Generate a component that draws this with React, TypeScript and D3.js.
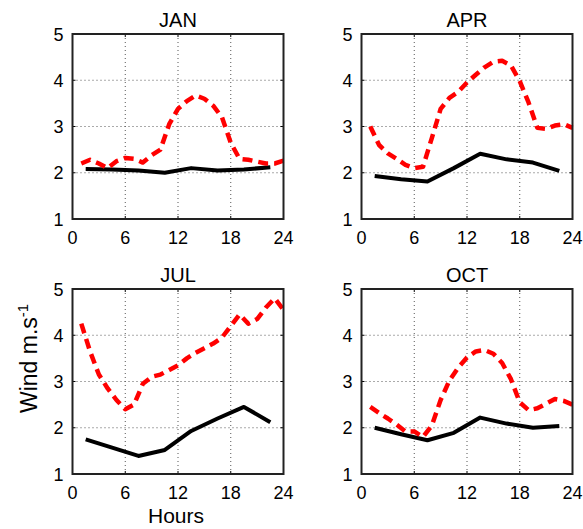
import React from 'react';
import * as d3 from 'd3';

// hourly values (hours 1..24), dashed red
const hoursRed = d3.range(1, 25);
// 3-hourly values, solid black
const hoursBlack = [1.5, 4.5, 7.5, 10.5, 13.5, 16.5, 19.5, 22.5];

const janRed = [2.2, 2.28, 2.2, 2.1, 2.25, 2.32, 2.3, 2.22, 2.38, 2.5, 3.05, 3.38, 3.55, 3.67, 3.6, 3.45, 3.2, 2.65, 2.3, 2.28, 2.24, 2.2, 2.2, 2.26];
const janBlack = [2.08, 2.07, 2.05, 2.0, 2.1, 2.05, 2.07, 2.12];

const aprRed = [3.0, 2.6, 2.42, 2.3, 2.17, 2.1, 2.13, 2.75, 3.38, 3.62, 3.75, 3.95, 4.12, 4.28, 4.4, 4.42, 4.32, 3.98, 3.52, 2.97, 2.95, 3.02, 3.05, 2.97];
const aprBlack = [1.93, 1.86, 1.81, 2.1, 2.41, 2.29, 2.22, 2.04];

const julRed = [4.25, 3.65, 3.15, 2.85, 2.6, 2.4, 2.5, 2.95, 3.1, 3.15, 3.25, 3.35, 3.5, 3.62, 3.72, 3.82, 3.95, 4.2, 4.45, 4.25, 4.35, 4.6, 4.8, 4.55];
const julBlack = [1.75, 1.57, 1.39, 1.52, 1.93, 2.2, 2.45, 2.12];

const octRed = [2.45, 2.32, 2.2, 2.07, 1.92, 1.92, 1.8, 2.05, 2.6, 3.02, 3.3, 3.52, 3.65, 3.68, 3.6, 3.4, 3.05, 2.55, 2.38, 2.42, 2.52, 2.62, 2.58, 2.5];
const octBlack = [2.0, 1.86, 1.73, 1.89, 2.22, 2.09, 2.0, 2.04];

const xTicks = [0, 6, 12, 18, 24];
const yTicks = [1, 2, 3, 4, 5];

const panels = [
  { title: 'JAN', red: janRed, black: janBlack, x0: 72.5, y0: 34 },
  { title: 'APR', red: aprRed, black: aprBlack, x0: 361.5, y0: 34 },
  { title: 'JUL', red: julRed, black: julBlack, x0: 72.5, y0: 289 },
  { title: 'OCT', red: octRed, black: octBlack, x0: 361.5, y0: 289 },
];

const W = 211;
const H = 185;
const font = 'Liberation Sans, Arial, sans-serif';

function Panel({ p }: { p: typeof panels[number] }) {
  const x = d3.scaleLinear().domain([0, 24]).range([0, W]);
  const y = d3.scaleLinear().domain([1, 5]).range([H, 0]);
  const line = d3.line<[number, number]>()
    .x(d => x(d[0]))
    .y(d => y(d[1]));
  const redPts: [number, number][] = hoursRed.map((h, i) => [h, p.red[i]]);
  const blackPts: [number, number][] = hoursBlack.map((h, i) => [h, p.black[i]]);
  return (
    <g transform={`translate(${p.x0},${p.y0})`}>
      {/* grid */}
      {xTicks.slice(1, -1).map(t => (
        <line key={'gx' + t} x1={x(t)} x2={x(t)} y1={0} y2={H} stroke="#555" strokeWidth={1} strokeDasharray="1,3" />
      ))}
      {yTicks.slice(1, -1).map(t => (
        <line key={'gy' + t} x1={0} x2={W} y1={y(t)} y2={y(t)} stroke="#555" strokeWidth={1} strokeDasharray="1,3" />
      ))}
      {/* inward ticks */}
      {xTicks.map(t => (
        <g key={'tx' + t}>
          <line x1={x(t)} x2={x(t)} y1={H} y2={H - 3} stroke="#000" />
          <line x1={x(t)} x2={x(t)} y1={0} y2={3} stroke="#000" />
        </g>
      ))}
      {yTicks.map(t => (
        <g key={'ty' + t}>
          <line x1={0} x2={3} y1={y(t)} y2={y(t)} stroke="#000" />
          <line x1={W} x2={W - 3} y1={y(t)} y2={y(t)} stroke="#000" />
        </g>
      ))}
      <path d={line(blackPts) || ''} fill="none" stroke="#000" strokeWidth={4} strokeLinejoin="round" />
      <path d={line(redPts) || ''} fill="none" stroke="#ff0000" strokeWidth={4.5} strokeDasharray="10,6" strokeLinejoin="round" />
      <rect x={0} y={0} width={W} height={H} fill="none" stroke="#222" strokeWidth={2} />
      {xTicks.map(t => (
        <text key={'lx' + t} x={x(t)} y={H + 25} textAnchor="middle" fontSize={18} fontFamily={font}>{t}</text>
      ))}
      {yTicks.map(t => (
        <text key={'ly' + t} x={-9} y={y(t) + 6.5} textAnchor="end" fontSize={18} fontFamily={font}>{t}</text>
      ))}
      <text x={W / 2} y={-7} textAnchor="middle" fontSize={20} fontFamily={font}>{p.title}</text>
    </g>
  );
}

export default function App() {
  return (
    <svg width={583} height={529} style={{ position: 'absolute', left: 0, top: 0, background: '#fff' }}>
      <rect width={583} height={529} fill="#fff" />
      {panels.map(p => <Panel key={p.title} p={p} />)}
      <text x={176} y={523} textAnchor="middle" fontSize={21} fontFamily={font}>Hours</text>
      <text transform="translate(37,413) rotate(-90)" fontSize={23} fontFamily={font}>
        Wind m.s<tspan dy={-9} fontSize={15}>-1</tspan>
      </text>
    </svg>
  );
}
